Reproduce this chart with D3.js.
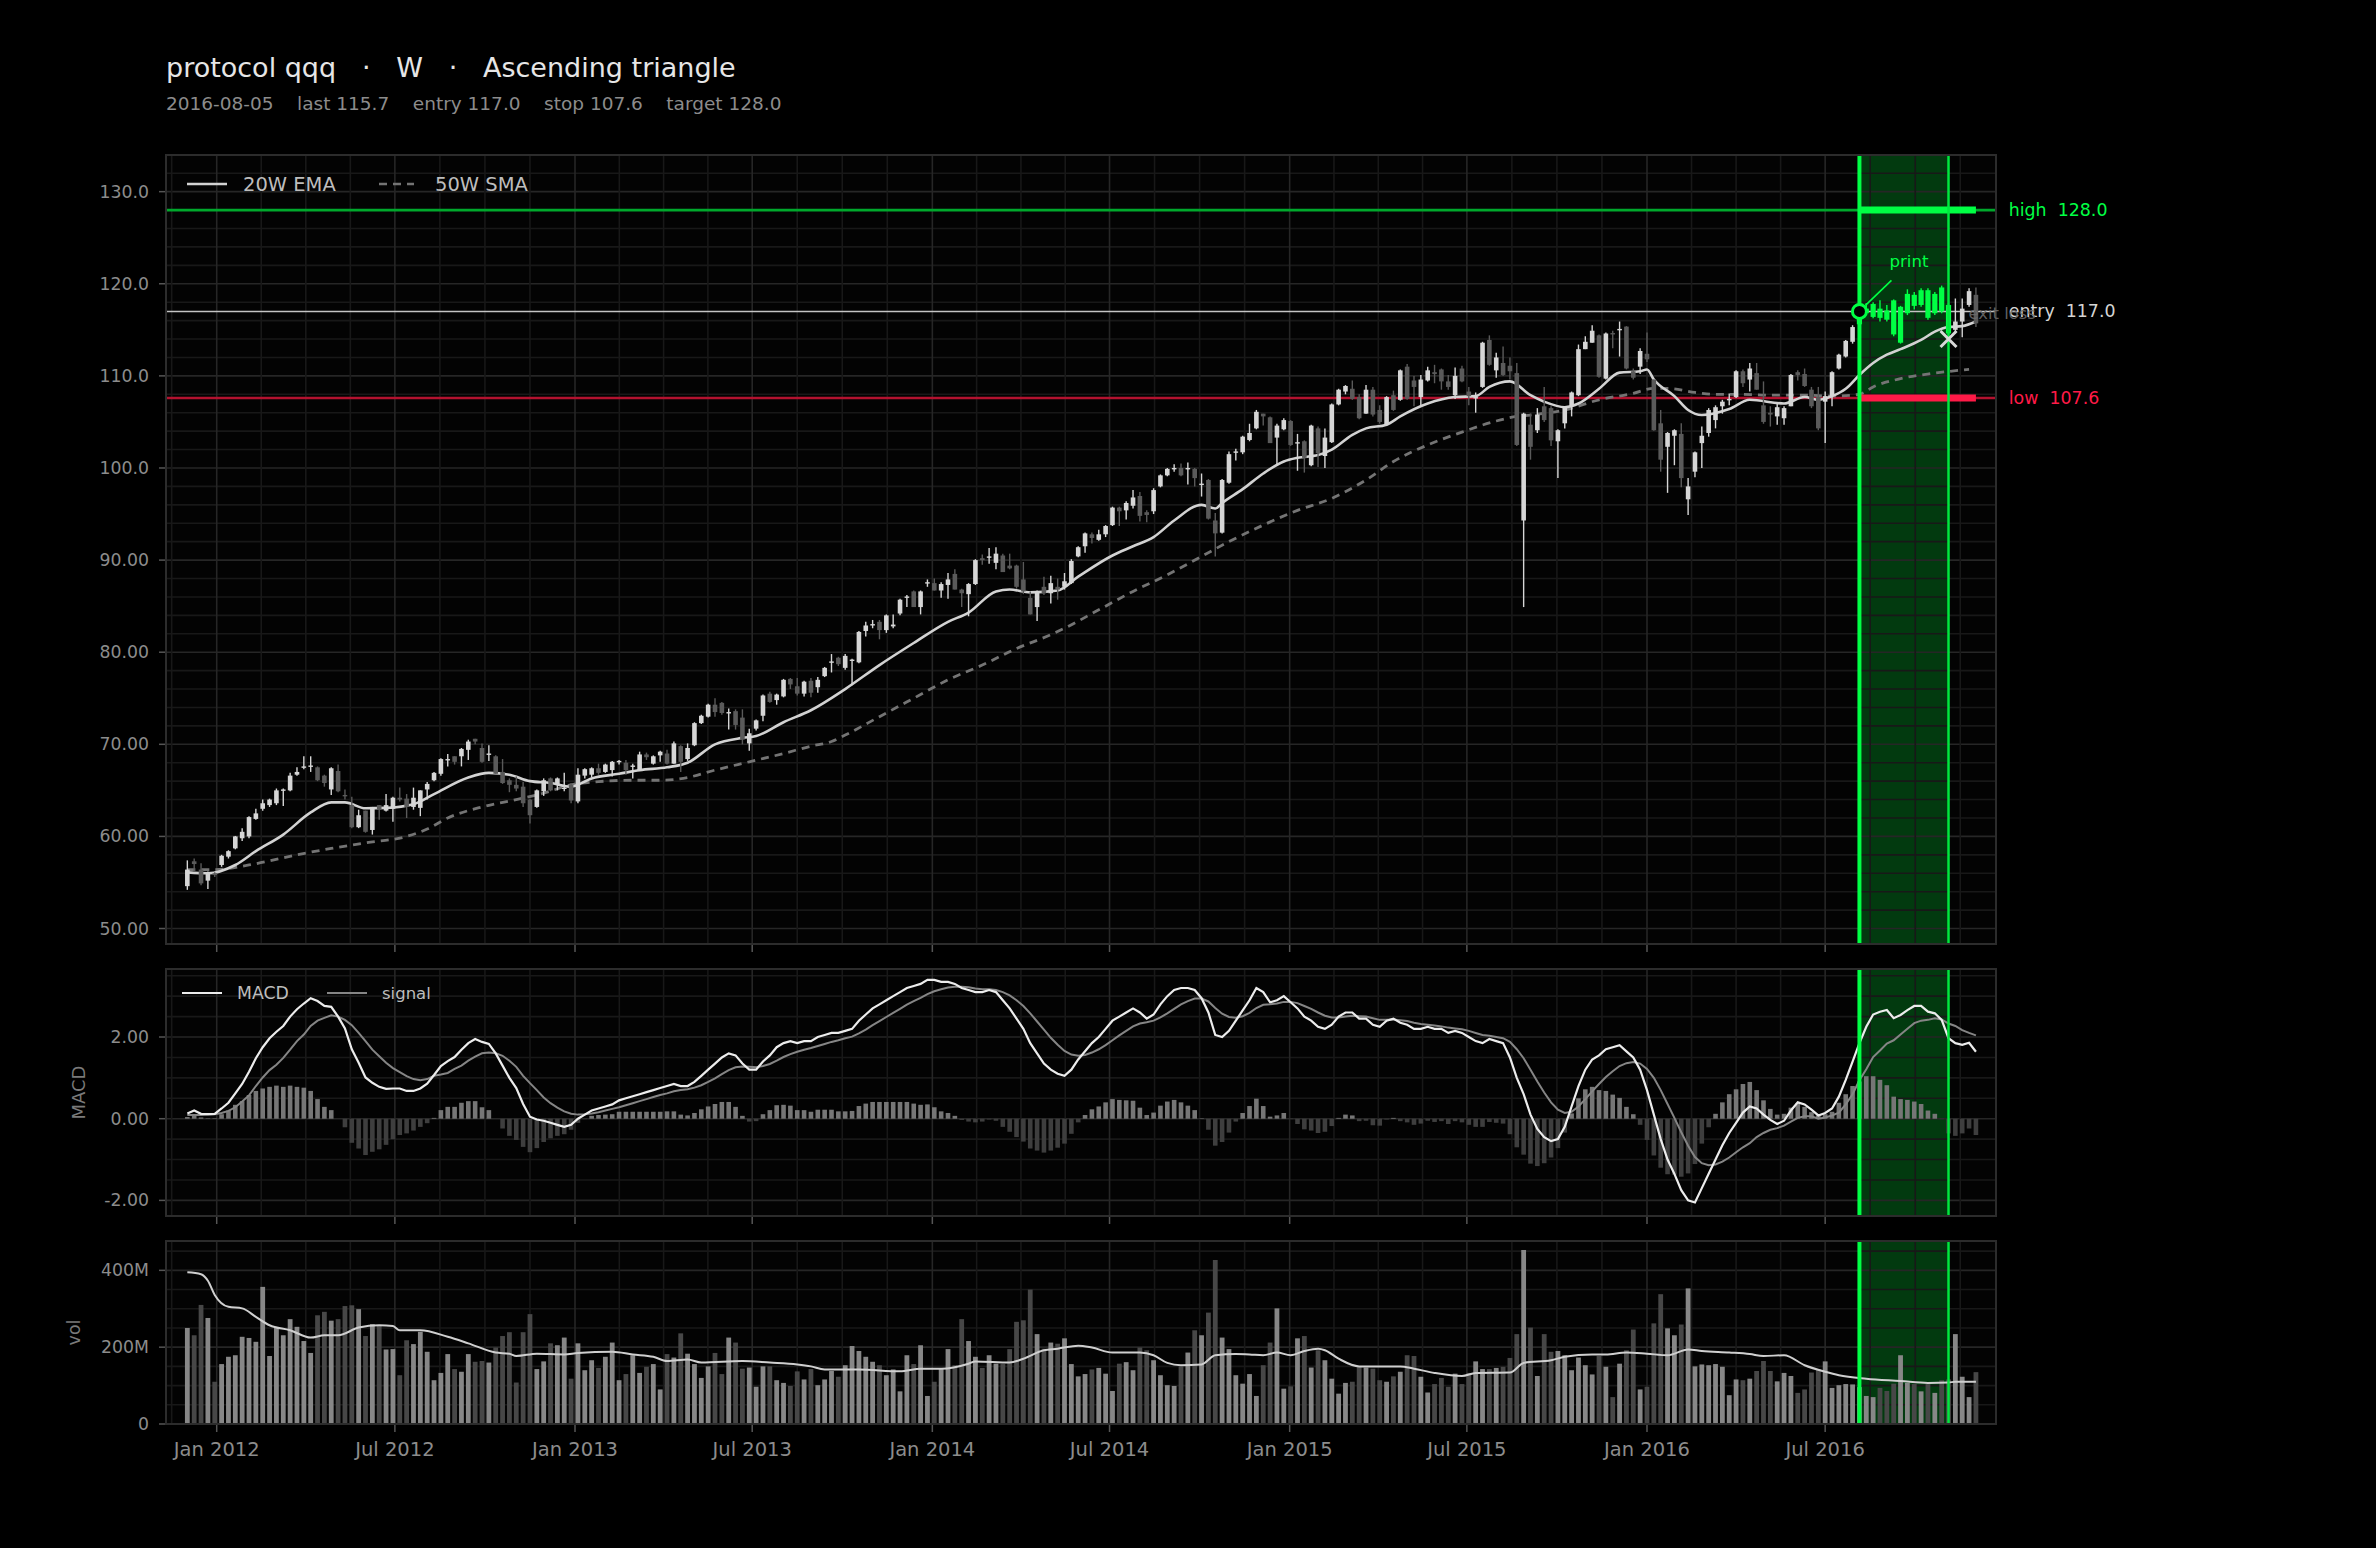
<!DOCTYPE html>
<html>
<head>
<meta charset="utf-8">
<script src="https://cdn.jsdelivr.net/npm/d3@7"></script>
<style>
  html, body { margin: 0; background: #000; }
  svg text { font-family: "DejaVu Sans", sans-serif; white-space: pre; }
</style>
</head>
<body>
<div id="chart"></div>
<script>
// weekly bars, first bar is the week ending 2011-12-02
const firstWeek = Date.UTC(2011, 11, 2)

const opens = [54.6,57.3,56.4,55.2,56.0,56.9,57.8,58.7,59.8,60.0,
61.9,63.0,63.4,63.6,65.0,65.0,66.7,67.5,67.6,67.5,
66.6,65.1,67.1,64.5,63.4,61.0,62.8,60.7,63.4,62.8,
63.0,64.2,64.1,63.2,63.1,65.1,66.1,66.8,68.3,68.7,
68.7,69.4,70.6,69.6,68.9,68.7,67.0,66.1,65.6,65.4,
64.0,63.2,64.9,66.3,65.6,65.2,65.6,63.8,66.6,66.7,
67.4,67.0,67.2,68.1,68.0,67.6,67.2,68.9,67.9,68.8,
69.0,67.9,69.8,68.4,69.9,72.3,73.0,74.3,74.5,73.4,
73.6,72.9,70.1,71.7,73.1,75.5,74.8,75.2,77.1,76.3,
75.5,76.9,76.2,77.4,78.9,79.4,78.3,79.1,78.9,82.3,
83.0,83.3,82.4,82.8,84.2,86.0,86.6,84.9,87.5,87.5,
86.7,87.3,88.5,86.8,86.3,87.4,90.2,90.3,89.7,90.5,
89.4,89.4,87.9,85.9,84.9,87.1,86.4,87.1,87.1,87.5,
90.4,91.5,92.8,92.2,92.8,93.8,95.7,95.4,95.9,96.96,
95.2,95.3,98.0,99.2,99.9,100.0,99.9,99.9,98.2,98.7,
94.3,92.98,98.4,101.7,101.7,103.04,104.3,105.9,105.5,103.3,
104.2,105.1,102.7,102.9,100.3,104.3,101.3,102.8,106.9,108.3,
108.6,107.7,105.9,108.5,106.3,104.7,107.9,107.4,111.0,109.5,
107.7,109.5,110.4,110.7,109.4,107.9,110.8,108.3,107.6,108.8,
113.9,110.6,111.4,111.1,110.3,94.3,104.7,104.1,106.7,106.5,
102.9,104.85,106.7,107.9,112.9,113.6,114.4,109.7,114.65,115.0,
115.35,110.5,111.0,112.4,109.6,104.85,102.3,103.5,103.7,96.6,
99.6,102.7,103.8,105.2,106.7,107.4,107.7,110.5,109.6,110.3,
106.8,106.0,105.6,105.4,106.7,110.4,110.2,108.5,107.7,107.2,
107.8,110.8,112.1,113.7,115.6,116.8,116.4,117.3,117.1,118.2,
113.6,116.8,118.8,117.7,119.3,116.8,119.6,117.7,115.0,115.9,
117.7,118.8]

const highs = [57.4,57.6,57.1,56.2,56.1,58.0,58.5,60.05,60.9,62.2,
63.0,64.0,64.1,65.2,65.2,66.9,67.5,68.7,68.7,67.6,
66.7,67.5,67.8,65.1,64.3,62.9,62.8,63.2,63.4,64.6,
64.3,65.3,64.6,65.3,65.0,65.9,67.0,68.5,68.95,68.7,
69.6,70.5,70.6,70.1,69.9,68.8,68.4,66.3,66.5,65.9,
64.1,65.1,66.3,66.4,66.4,66.9,65.8,67.4,67.4,67.5,
67.9,67.9,68.2,68.3,68.3,67.9,69.2,69.1,68.8,69.3,
69.4,70.3,69.9,70.1,72.4,73.2,74.4,75.0,74.6,73.9,
73.8,73.8,71.7,72.7,75.4,75.7,75.5,77.1,77.2,77.2,
76.9,77.2,77.3,78.4,79.8,79.5,79.8,79.3,82.3,83.3,
83.5,83.5,84.1,84.1,85.8,86.2,86.7,86.7,87.9,88.0,
87.6,88.6,89.0,86.9,87.5,90.1,90.6,91.3,91.4,90.7,
90.7,89.5,89.8,86.6,86.7,88.2,88.3,88.0,88.6,90.1,
91.5,93.0,93.0,93.3,93.8,95.8,95.8,96.4,97.6,97.4,
95.4,97.8,99.3,100.0,100.4,100.5,100.6,100.0,99.4,98.8,
95.1,98.8,101.8,102.1,103.5,104.8,106.3,105.9,105.6,104.8,
105.4,105.2,103.7,103.0,104.7,104.5,104.3,107.0,108.6,109.0,
109.5,108.0,109.0,108.8,106.8,107.8,108.4,110.7,111.3,110.0,
110.1,111.0,111.2,110.8,110.1,110.9,111.1,108.8,108.2,113.7,
114.4,112.5,113.2,112.0,111.4,106.0,105.9,106.5,108.8,106.7,
104.2,106.7,108.3,113.4,114.3,115.5,114.5,114.7,114.9,115.9,
115.4,110.8,113.0,114.7,109.6,106.3,103.9,104.2,104.85,98.9,
101.8,104.5,106.5,106.8,107.4,108.1,110.6,110.7,111.4,111.4,
109.4,106.7,107.0,106.7,110.2,110.6,110.8,108.8,108.8,108.3,
110.5,112.4,113.9,115.5,117.5,117.9,118.0,118.2,117.7,118.3,
117.6,119.4,119.1,119.5,119.5,119.1,119.8,117.9,118.4,118.4,
119.5,119.6]

const lows = [54.2,56.2,54.7,54.3,55.6,56.7,57.6,58.6,59.5,59.8,
61.8,62.8,63.2,63.4,63.3,64.9,66.6,67.3,67.0,66.0,
65.4,64.5,64.8,64.0,60.9,60.9,60.4,60.2,61.8,62.7,
61.6,63.8,62.0,62.9,62.2,64.0,66.0,66.6,67.6,67.8,
67.6,68.3,70.0,68.0,68.2,66.8,65.7,64.8,64.9,63.2,
61.4,63.1,64.4,64.9,65.0,64.9,63.6,63.6,66.3,66.4,
66.7,66.9,66.5,67.8,66.7,66.3,67.1,68.3,67.8,68.1,
67.8,67.9,67.0,68.2,69.8,72.2,72.9,73.0,73.2,71.6,
71.6,70.0,69.3,71.5,72.5,74.5,74.3,75.1,76.0,75.3,
75.2,75.1,75.6,77.3,77.8,78.5,78.1,76.4,78.8,81.7,
82.6,81.4,82.1,82.6,84.0,84.9,84.9,84.1,87.1,86.7,
85.9,85.8,86.8,84.9,83.9,87.3,89.5,89.6,89.0,88.7,
89.0,86.9,86.3,84.1,83.4,86.2,85.3,85.7,86.8,87.4,
90.3,90.8,91.8,92.1,92.5,93.7,93.7,94.4,95.6,94.2,
94.1,95.0,97.9,99.1,99.6,99.1,98.2,98.0,96.9,94.4,
90.4,92.9,98.3,100.8,101.5,102.9,104.2,104.6,102.7,100.3,
104.1,102.4,99.7,99.5,100.2,100.1,100.0,102.7,106.8,108.0,
107.4,105.3,105.9,105.6,104.8,104.6,106.2,107.3,107.4,106.7,
106.8,109.4,109.2,108.5,108.5,107.5,109.3,106.8,106.0,108.7,
111.1,109.8,110.0,109.6,102.4,84.9,100.9,103.8,105.0,102.4,
98.9,104.3,105.6,107.8,112.9,113.6,109.8,109.6,113.0,112.1,
110.7,109.6,110.2,111.5,104.05,99.6,97.3,100.3,97.9,94.9,
99.0,100.0,103.4,104.3,105.9,106.8,107.6,108.8,108.3,108.5,
104.8,104.5,104.7,104.7,106.7,109.5,108.8,106.5,104.1,102.7,
106.7,110.7,112.0,113.5,115.2,116.6,116.25,115.9,115.9,114.3,
113.5,116.6,117.2,117.5,116.1,116.6,116.8,114.4,114.6,114.2,
117.5,115.3]

const closes = [56.4,57.0,54.9,56.1,55.8,57.9,58.4,60.0,60.5,62.1,
62.5,63.6,64.0,65.0,65.1,66.6,67.0,67.6,67.7,66.1,
65.8,67.4,64.9,64.4,61.0,62.3,60.5,63.2,62.9,63.4,
64.2,64.0,63.2,64.2,65.0,65.7,66.9,68.4,68.4,68.1,
69.5,70.3,70.3,68.1,69.0,66.8,65.8,65.6,65.2,63.6,
62.3,65.0,66.1,65.0,66.3,65.3,63.9,66.7,67.3,67.4,
66.9,67.8,68.1,68.2,67.2,67.7,68.9,68.6,68.7,69.2,
67.9,70.1,68.1,69.6,72.3,73.1,74.3,73.5,73.4,73.5,
72.1,70.5,71.2,72.6,75.3,74.6,75.4,77.0,76.5,75.5,
76.8,75.6,77.0,78.3,79.0,78.7,79.6,79.2,82.2,82.9,
83.05,82.4,84.0,83.0,85.7,86.05,84.9,86.6,87.6,86.7,
87.4,87.9,86.8,86.4,87.4,90.0,90.0,90.4,90.7,88.7,
89.1,87.1,86.6,84.1,86.6,86.4,87.5,86.8,87.7,89.9,
91.4,92.9,92.4,92.8,93.7,95.7,95.3,96.2,96.8,94.8,
94.9,97.6,99.2,99.9,100.0,99.2,100.0,98.9,98.3,94.5,
92.9,98.7,101.5,101.8,103.4,103.8,106.1,105.6,102.7,104.6,
105.2,102.5,102.8,101.1,104.6,101.6,103.3,106.9,108.5,108.9,
107.5,105.4,108.5,105.8,105.0,107.7,106.3,110.6,107.5,108.8,
109.6,110.6,110.2,109.4,108.8,110.0,109.4,107.8,107.7,113.6,
111.2,112.0,110.1,110.5,102.5,105.9,102.3,105.8,105.2,103.0,
104.1,106.7,108.2,112.9,113.7,114.9,109.9,114.6,114.6,115.1,
110.8,109.8,112.7,111.8,104.1,100.9,103.8,104.1,98.9,98.0,
101.7,103.5,106.3,106.6,107.2,107.5,110.5,109.2,110.8,108.5,
105.0,105.8,106.6,106.5,110.1,110.1,108.9,106.7,104.3,107.8,
110.4,112.3,113.8,115.3,117.1,117.3,117.8,116.3,116.1,114.5,
117.5,118.9,117.6,119.3,116.3,118.9,117.0,114.6,115.9,117.3,
119.2,115.7]

// volume in millions of shares
const volumes = [250,231,310,276,110,156,175,179,227,224,
214,357,177,251,231,273,253,216,185,283,
292,269,273,307,309,299,229,260,257,194,
195,127,218,208,240,188,114,133,182,143,
136,182,162,164,160,199,229,239,108,239,
286,143,163,210,205,225,118,210,140,166,
146,175,212,114,130,179,133,149,156,90,
182,173,236,183,156,120,150,185,130,225,
212,144,147,97,150,150,114,107,99,137,
116,143,101,116,138,123,153,203,190,175,
162,153,127,142,85,179,156,205,73,110,
143,195,153,273,216,175,146,179,157,156,
195,266,270,350,234,196,212,209,223,156,
124,130,142,146,131,86,157,161,140,199,
192,166,127,101,99,150,186,244,231,290,
427,225,195,127,105,130,73,153,212,301,
92,98,223,229,147,192,166,118,79,107,
110,150,147,144,114,110,124,136,179,177,
123,82,104,120,97,131,104,133,163,143,
143,146,149,172,234,453,251,125,234,188,
190,179,140,173,153,129,177,149,70,157,
192,246,90,97,262,338,249,231,259,353,
150,155,153,156,149,75,116,114,118,138,
164,138,111,133,125,81,90,134,143,163,
94,101,104,103,96,73,70,94,86,105,
179,107,104,85,104,81,114,116,234,123,
70,135]

const macdValues = [0.13,0.20,0.12,0.11,0.12,0.25,0.39,0.62,0.85,1.15,
1.48,1.75,1.97,2.13,2.27,2.50,2.68,2.82,2.95,2.88,
2.76,2.74,2.50,2.21,1.70,1.37,1.01,0.88,0.78,0.73,
0.74,0.74,0.68,0.68,0.74,0.86,1.07,1.29,1.41,1.51,
1.69,1.85,1.95,1.88,1.83,1.60,1.30,1.00,0.75,0.36,
0.05,-0.02,-0.05,-0.10,-0.15,-0.20,-0.15,0.00,0.10,0.20,
0.25,0.30,0.35,0.45,0.50,0.55,0.60,0.65,0.70,0.75,
0.80,0.85,0.80,0.80,0.90,1.05,1.20,1.35,1.50,1.60,
1.55,1.35,1.20,1.20,1.40,1.55,1.75,1.85,1.90,1.85,
1.90,1.90,2.00,2.05,2.10,2.10,2.15,2.20,2.40,2.55,
2.70,2.80,2.90,3.00,3.10,3.20,3.25,3.30,3.40,3.40,
3.35,3.35,3.30,3.20,3.15,3.10,3.10,3.15,3.10,2.90,
2.70,2.45,2.20,1.85,1.60,1.35,1.20,1.10,1.05,1.20,
1.45,1.65,1.85,2.00,2.20,2.40,2.50,2.60,2.70,2.60,
2.45,2.55,2.80,3.00,3.15,3.20,3.20,3.15,2.95,2.60,
2.05,2.00,2.15,2.40,2.65,2.90,3.20,3.10,2.85,2.90,
3.00,2.85,2.70,2.50,2.40,2.25,2.20,2.30,2.50,2.60,
2.60,2.45,2.45,2.30,2.25,2.40,2.45,2.35,2.30,2.20,
2.20,2.25,2.20,2.20,2.10,2.15,2.10,2.00,1.90,1.85,
1.95,1.90,1.85,1.50,1.00,0.60,0.10,-0.25,-0.45,-0.55,
-0.50,-0.20,0.30,0.80,1.20,1.45,1.55,1.70,1.75,1.80,
1.65,1.50,1.20,0.70,0.10,-0.50,-1.00,-1.35,-1.75,-2.00,
-2.05,-1.70,-1.35,-1.00,-0.65,-0.35,-0.10,0.15,0.30,0.25,
0.10,-0.03,-0.13,-0.05,0.20,0.40,0.35,0.22,0.08,0.14,
0.25,0.54,0.95,1.40,1.85,2.25,2.55,2.62,2.66,2.46,
2.54,2.66,2.76,2.76,2.62,2.58,2.42,1.97,1.85,1.81,
1.86,1.64]

const signalValues = [0.09,0.09,0.09,0.10,0.11,0.14,0.19,0.28,0.42,0.57,
0.80,1.01,1.19,1.32,1.49,1.69,1.90,2.06,2.27,2.40,
2.47,2.53,2.50,2.42,2.29,2.10,1.90,1.69,1.53,1.37,
1.24,1.14,1.04,0.97,0.94,0.97,1.05,1.08,1.12,1.22,
1.30,1.42,1.52,1.60,1.62,1.60,1.54,1.42,1.27,1.05,
0.87,0.70,0.52,0.38,0.27,0.18,0.12,0.10,0.11,0.13,
0.16,0.20,0.24,0.28,0.33,0.38,0.43,0.48,0.53,0.58,
0.62,0.67,0.70,0.72,0.76,0.82,0.90,0.99,1.09,1.19,
1.26,1.28,1.27,1.26,1.29,1.34,1.42,1.51,1.58,1.64,
1.69,1.73,1.78,1.83,1.88,1.92,1.97,2.01,2.09,2.18,
2.29,2.39,2.49,2.59,2.69,2.79,2.88,2.96,3.05,3.12,
3.17,3.21,3.23,3.23,3.22,3.19,3.17,3.17,3.15,3.10,
3.02,2.90,2.76,2.58,2.38,2.18,1.98,1.81,1.66,1.57,
1.54,1.56,1.62,1.70,1.80,1.92,2.04,2.15,2.26,2.33,
2.36,2.40,2.48,2.58,2.69,2.80,2.88,2.94,2.94,2.87,
2.71,2.57,2.49,2.47,2.51,2.59,2.71,2.79,2.80,2.82,
2.86,2.86,2.83,2.76,2.69,2.60,2.52,2.48,2.48,2.50,
2.52,2.51,2.50,2.46,2.42,2.42,2.43,2.41,2.39,2.35,
2.32,2.30,2.28,2.26,2.23,2.21,2.19,2.15,2.10,2.05,
2.03,2.00,1.97,1.88,1.70,1.48,1.20,0.91,0.64,0.40,
0.22,0.14,0.17,0.30,0.48,0.67,0.85,1.02,1.16,1.29,
1.36,1.39,1.35,1.22,1.00,0.70,0.36,0.02,-0.33,-0.66,
-0.94,-1.09,-1.14,-1.12,-1.05,-0.95,-0.82,-0.70,-0.60,-0.45,
-0.35,-0.27,-0.23,-0.17,-0.07,0.02,0.06,0.06,0.00,0.03,
0.08,0.15,0.35,0.60,0.94,1.21,1.51,1.67,1.84,1.92,
2.06,2.20,2.34,2.40,2.42,2.46,2.43,2.33,2.27,2.17,
2.10,2.04]

// moving averages: [week index, value]
const ema20 = [[0,56.1],[3,56.0],[7,56.9],[10,58.4],[14,60.2],[18,62.6],[21,63.7],[23,63.7],[26,63.05],[29,63.1],
[33,63.5],[36,64.6],[41,66.4],[44,66.9],[47,66.7],[50,66.0],[53,65.8],[56,65.4],[59,66.3],[63,66.8],
[66,67.2],[70,67.5],[73,68.0],[77,70.0],[81,70.7],[83,70.9],[87,72.4],[91,73.7],[96,76.0],[101,78.6],
[106,81.0],[111,83.3],[114,84.3],[118,86.6],[120,86.8],[123,86.5],[127,86.7],[130,88.2],[135,90.5],[138,91.5],
[141,92.5],[144,94.3],[148,96.0],[150,95.6],[151,96.2],[154,97.7],[157,99.4],[160,100.7],[162,101.1],[165,101.4],
[167,102.0],[170,103.6],[172,104.3],[175,104.7],[177,105.6],[181,107.0],[185,107.7],[188,107.8],[190,108.8],[193,109.4],
[196,107.9],[198,107.2],[201,106.6],[203,107.0],[206,108.6],[209,110.35],[212,110.5],[213,110.7],[214,109.6],[217,107.8],
[219,106.3],[221,105.75],[225,106.4],[228,107.4],[233,107.0],[236,107.7],[238,107.4],[240,107.8],[242,108.6],[244,110.1],
[246,111.4],[248,112.3],[250,112.9],[253,113.9],[255,114.8],[257,115.3],[259,115.4],[261,115.9]]

const sma50 = [[0,56.4],[4,56.4],[9,56.9],[16,58.0],[21,58.7],[26,59.3],[32,60.0],[35,60.8],[38,62.0],[43,63.2],
[48,64.0],[52,64.7],[56,65.6],[60,65.95],[65,66.1],[69,66.1],[73,66.4],[77,67.2],[82,68.1],[87,69.0],
[91,69.8],[94,70.3],[96,71.0],[101,73.0],[106,75.0],[111,77.0],[116,78.6],[121,80.4],[126,81.9],[128,82.6],
[133,84.6],[138,86.6],[143,88.4],[148,90.4],[152,92.0],[157,93.8],[162,95.4],[167,96.7],[172,98.7],[176,100.7],
[181,102.5],[186,103.9],[191,105.1],[194,105.6],[196,105.75],[201,106.3],[206,107.4],[211,108.1],[214,108.65],[216,108.65],
[220,108.2],[223,108.0],[226,108.0],[231,107.9],[236,107.9],[240,107.8],[244,108.0],[246,108.8],[250,109.7],[255,110.3],
[260,110.7]]

const volAvg = [[0,395],[2,390],[3,373],[4,336],[6,305],[8,301],[10,279],[12,257],[15,244],[18,225],
[20,231],[22,231],[25,251],[28,257],[30,255],[31,244],[34,244],[38,227],[41,210],[45,186],
[47,183],[48,177],[51,183],[55,181],[57,185],[62,188],[65,181],[68,175],[70,164],[73,168],
[75,160],[81,164],[85,160],[89,155],[91,150],[93,142],[98,142],[104,137],[107,144],[110,144],
[114,157],[115,163],[120,160],[122,170],[125,192],[127,196],[130,204],[132,199],[135,186],[139,186],
[141,179],[143,159],[145,153],[148,155],[150,179],[153,182],[155,181],[157,179],[159,186],[161,179],
[163,190],[165,196],[166,192],[168,170],[171,150],[175,150],[177,150],[179,144],[182,133],[186,125],
[188,133],[193,134],[195,159],[199,166],[201,175],[205,181],[207,181],[210,186],[213,183],[216,179],
[219,194],[221,190],[225,186],[228,182],[230,177],[233,179],[236,153],[239,136],[241,127],[245,118],
[250,112],[254,107],[257,108],[258,110],[261,110]]

// trade setup
const entryWeek = 244
const exitWeek = 257
const entryPrice = 117.0
const stopPrice = 107.6
const targetPrice = 128.0
const exitPrice = 114.0

const mainTicks = [50, 60, 70, 80, 90, 100, 110, 120, 130]
const macdTicks = [-2, 0, 2]
const volTicks = [0, 200, 400]

function drawChart() {
  const width = 2376
  const height = 1548
  const left = 166
  const right = 1996
  const mainBox = { top: 155, bottom: 944 }
  const macdBox = { top: 969, bottom: 1216 }
  const volBox = { top: 1241, bottom: 1424 }

  const upGrey = "#d6d6d6", downGrey = "#5a5a5a"
  const hot = "#00ff44"

  const dateOf = i => new Date(firstWeek + i * 7 * 864e5)
  const weeks = d3.range(closes.length)

  const svg = d3.select("#chart").append("svg")
    .attr("width", width)
    .attr("height", height)
    .style("background", "#000")

  const xScale = d3.scaleUtc()
    .domain([new Date(Date.UTC(2011, 10, 10, 5)), new Date(Date.UTC(2016, 11, 22, 12))])
    .range([left, right])
  const xw = i => xScale(dateOf(i))

  const yMain = d3.scaleLinear().domain([48.32, 133.98]).range([mainBox.bottom, mainBox.top])
  const yMacd = d3.scaleLinear().domain([-2.382, 3.665]).range([macdBox.bottom, macdBox.top])
  const yVol = d3.scaleLinear().domain([0, 476.4]).range([volBox.bottom, volBox.top])

  // vertical grid: half-year majors, quarter-of-half-year minors
  const vGrid = []
  for (let yr = 2011; yr <= 2016; yr++) {
    for (const m of [0, 6]) {
      const a = Date.UTC(yr, m, 1)
      const b = m === 0 ? Date.UTC(yr, 6, 1) : Date.UTC(yr + 1, 0, 1)
      for (let k = 0; k < 4; k++) vGrid.push({ t: new Date(a + k * (b - a) / 4), major: k === 0 })
    }
  }
  const [d0, d1] = xScale.domain()
  const vLines = vGrid.filter(d => d.t > d0 && d.t < d1)
  const xTickDates = vLines.filter(d => d.major).map(d => d.t)

  function panel(box, yScale, step, majors, clipId) {
    const g = svg.append("g")
    g.append("rect").attr("x", left).attr("y", box.top)
      .attr("width", right - left).attr("height", box.bottom - box.top)
      .attr("fill", "#030303")
    // trade window
    g.append("rect")
      .attr("x", xw(entryWeek)).attr("y", box.top)
      .attr("width", xw(exitWeek) - xw(entryWeek)).attr("height", box.bottom - box.top)
      .attr("fill", "#023a0f")
    const [lo, hi] = yScale.domain()
    const hVals = d3.range(Math.ceil(lo / step) * step, hi, step)
    g.append("g").selectAll("line").data(hVals).join("line")
      .attr("x1", left).attr("x2", right)
      .attr("y1", d => yScale(d)).attr("y2", d => yScale(d))
      .attr("stroke", d => majors.some(m => Math.abs(m - d) < 1e-6) ? "#262626" : "#181818")
      .attr("stroke-width", 1.6)
    g.append("g").selectAll("line").data(vLines).join("line")
      .attr("x1", d => xScale(d.t)).attr("x2", d => xScale(d.t))
      .attr("y1", box.top).attr("y2", box.bottom)
      .attr("stroke", d => d.major ? "#262626" : "#181818")
      .attr("stroke-width", 1.6)
    // y ticks
    g.append("g").selectAll("line").data(majors).join("line")
      .attr("x1", left - 7).attr("x2", left)
      .attr("y1", d => yScale(d)).attr("y2", d => yScale(d))
      .attr("stroke", "#555").attr("stroke-width", 1.5)
    // x ticks below the panel
    g.append("g").selectAll("line").data(xTickDates).join("line")
      .attr("x1", d => xScale(d)).attr("x2", d => xScale(d))
      .attr("y1", box.bottom).attr("y2", box.bottom + 8)
      .attr("stroke", "#555").attr("stroke-width", 1.5)
    svg.append("clipPath").attr("id", clipId).append("rect")
      .attr("x", left).attr("y", box.top)
      .attr("width", right - left).attr("height", box.bottom - box.top)
    const marks = svg.append("g").attr("clip-path", `url(#${clipId})`)
    return marks
  }

  function frame(box) {
    const g = svg.append("g")
    g.append("line").attr("x1", xw(entryWeek)).attr("x2", xw(entryWeek))
      .attr("y1", box.top).attr("y2", box.bottom)
      .attr("stroke", hot).attr("stroke-width", 4)
    g.append("line").attr("x1", xw(exitWeek)).attr("x2", xw(exitWeek))
      .attr("y1", box.top).attr("y2", box.bottom)
      .attr("stroke", "#00e83e").attr("stroke-width", 2.5)
    g.append("rect").attr("x", left).attr("y", box.top)
      .attr("width", right - left).attr("height", box.bottom - box.top)
      .attr("fill", "none").attr("stroke", "#2c2c2c").attr("stroke-width", 2)
  }

  function yLabels(ticks, yScale, fmt) {
    svg.append("g").selectAll("text").data(ticks).join("text")
      .attr("x", 149).attr("y", d => yScale(d))
      .attr("text-anchor", "end").attr("dominant-baseline", "central")
      .attr("font-size", 17.3).attr("fill", "#8c8c8c")
      .text(fmt)
  }

  // ---------- price panel ----------
  const main = panel(mainBox, yMain, 2, mainTicks, "clipMain")
  yLabels(mainTicks, yMain, d => d >= 100 ? d.toFixed(1) : d.toFixed(2))

  const inTrade = i => i >= entryWeek && i <= exitWeek
  const isUp = i => closes[i] >= opens[i]

  main.append("line").attr("x1", left).attr("x2", right)
    .attr("y1", yMain(targetPrice)).attr("y2", yMain(targetPrice))
    .attr("stroke", "#00a82c").attr("stroke-width", 2.6)
  main.append("line").attr("x1", left).attr("x2", right)
    .attr("y1", yMain(entryPrice)).attr("y2", yMain(entryPrice))
    .attr("stroke", "#c4c4c4").attr("stroke-width", 1.5)
  main.append("line").attr("x1", left).attr("x2", right)
    .attr("y1", yMain(stopPrice)).attr("y2", yMain(stopPrice))
    .attr("stroke", "#b3122f").attr("stroke-width", 2.6)

  const lineEma = d3.line().x(d => xw(d[0])).y(d => yMain(d[1])).curve(d3.curveMonotoneX)
  main.append("path").attr("d", lineEma(sma50))
    .attr("fill", "none").attr("stroke", "#747474").attr("stroke-width", 2.8)
    .attr("stroke-dasharray", "8,6")
  main.append("path").attr("d", lineEma(ema20))
    .attr("fill", "none").attr("stroke", "#d2d2d2").attr("stroke-width", 2.6)

  const candle = main.append("g").selectAll("g").data(weeks).join("g")
  const colour = i => inTrade(i) ? hot : (isUp(i) ? upGrey : downGrey)
  candle.append("line")
    .attr("x1", i => xw(i)).attr("x2", i => xw(i))
    .attr("y1", i => yMain(highs[i])).attr("y2", i => yMain(lows[i]))
    .attr("stroke", colour).attr("stroke-width", 1.4)
  candle.append("rect")
    .attr("x", i => xw(i) - (inTrade(i) ? 2.6 : 2.3))
    .attr("width", i => inTrade(i) ? 5.2 : 4.6)
    .attr("y", i => yMain(Math.max(opens[i], closes[i])))
    .attr("height", i => Math.max(1.4, Math.abs(yMain(opens[i]) - yMain(closes[i]))))
    .attr("fill", colour)

  // thick target / stop bands from entry to the last bar
  const lastWeek = closes.length - 1
  main.append("line").attr("x1", xw(entryWeek)).attr("x2", xw(lastWeek))
    .attr("y1", yMain(targetPrice)).attr("y2", yMain(targetPrice))
    .attr("stroke", hot).attr("stroke-width", 7)
  main.append("line").attr("x1", xw(entryWeek)).attr("x2", xw(lastWeek))
    .attr("y1", yMain(stopPrice)).attr("y2", yMain(stopPrice))
    .attr("stroke", "#ff1a47").attr("stroke-width", 7)

  frame(mainBox)

  // entry print marker
  const ex = xw(entryWeek), ey = yMain(entryPrice)
  svg.append("line").attr("x1", ex + 6).attr("y1", ey - 6).attr("x2", ex + 32).attr("y2", ey - 31)
    .attr("stroke", hot).attr("stroke-width", 1.6)
  svg.append("circle").attr("cx", ex).attr("cy", ey).attr("r", 7)
    .attr("fill", "#000").attr("stroke", hot).attr("stroke-width", 3)
  svg.append("text").attr("x", ex + 30).attr("y", ey - 44)
    .attr("font-size", 16.6).attr("fill", hot).text("print")

  // exit marker
  const qx = xw(exitWeek), qy = yMain(exitPrice)
  svg.append("path")
    .attr("d", `M${qx - 8},${qy - 8}L${qx + 8},${qy + 8}M${qx - 8},${qy + 8}L${qx + 8},${qy - 8}`)
    .attr("stroke", "#d8d8d8").attr("stroke-width", 3).attr("fill", "none")

  // right-hand level labels
  const levels = [
    { v: targetPrice, label: "high  ", c: hot },
    { v: entryPrice, label: "entry  ", c: "#d4d4d4" },
    { v: stopPrice, label: "low  ", c: "#ff1a47" }
  ]
  svg.append("g").selectAll("text").data(levels).join("text")
    .attr("x", right + 12.7).attr("y", d => yMain(d.v))
    .attr("dominant-baseline", "central")
    .attr("font-size", 17.4).attr("fill", d => d.c)
    .text(d => d.label + d.v.toFixed(1))
  svg.append("text").attr("x", qx + 20).attr("y", qy - 26)
    .attr("dominant-baseline", "central")
    .attr("font-size", 16.4).attr("fill", "#6c6c6c").attr("fill-opacity", 0.9)
    .text("exit loss")

  // legend
  const lg = svg.append("g")
  lg.append("line").attr("x1", 187).attr("x2", 227).attr("y1", 184).attr("y2", 184)
    .attr("stroke", "#d2d2d2").attr("stroke-width", 2.6)
  lg.append("text").attr("x", 243).attr("y", 184).attr("dominant-baseline", "central")
    .attr("font-size", 19.5).attr("fill", "#bdbdbd").text("20W EMA")
  lg.append("line").attr("x1", 379).attr("x2", 414).attr("y1", 184).attr("y2", 184)
    .attr("stroke", "#747474").attr("stroke-width", 2.6).attr("stroke-dasharray", "8,6")
  lg.append("text").attr("x", 435).attr("y", 184).attr("dominant-baseline", "central")
    .attr("font-size", 19.5).attr("fill", "#bdbdbd").text("50W SMA")

  // ---------- MACD panel ----------
  const macd = panel(macdBox, yMacd, 0.5, macdTicks, "clipMacd")
  yLabels(macdTicks, yMacd, d => d.toFixed(2))
  const hist = weeks.map(i => macdValues[i] - signalValues[i])
  macd.append("g").selectAll("rect").data(weeks).join("rect")
    .attr("x", i => xw(i) - 2.3).attr("width", 4.6)
    .attr("y", i => Math.min(yMacd(0), yMacd(hist[i])))
    .attr("height", i => Math.abs(yMacd(hist[i]) - yMacd(0)))
    .attr("fill", i => hist[i] >= 0 ? "#767676" : "#3e3e3e")
  const lineM = d3.line().x(i => xw(i))
  macd.append("path").attr("d", lineM.y(i => yMacd(signalValues[i]))(weeks))
    .attr("fill", "none").attr("stroke", "#858585").attr("stroke-width", 2)
  macd.append("path").attr("d", lineM.y(i => yMacd(macdValues[i]))(weeks))
    .attr("fill", "none").attr("stroke", "#ececec").attr("stroke-width", 2.2)
  frame(macdBox)
  svg.append("line").attr("x1", 182).attr("x2", 222).attr("y1", 993).attr("y2", 993)
    .attr("stroke", "#ececec").attr("stroke-width", 2.2)
  svg.append("text").attr("x", 237).attr("y", 993).attr("dominant-baseline", "central")
    .attr("font-size", 17.3).attr("fill", "#bdbdbd").text("MACD")
  svg.append("line").attr("x1", 327).attr("x2", 367).attr("y1", 993).attr("y2", 993)
    .attr("stroke", "#858585").attr("stroke-width", 2)
  svg.append("text").attr("x", 382).attr("y", 993).attr("dominant-baseline", "central")
    .attr("font-size", 16.5).attr("fill", "#bdbdbd").text("signal")
  svg.append("text")
    .attr("transform", `translate(78,${(macdBox.top + macdBox.bottom) / 2}) rotate(-90)`)
    .attr("text-anchor", "middle").attr("dominant-baseline", "central")
    .attr("font-size", 18).attr("fill", "#7a7a7a").text("MACD")

  // ---------- volume panel ----------
  const vol = panel(volBox, yVol, 50, volTicks, "clipVol")
  yLabels(volTicks, yVol, d => d === 0 ? "0" : d + "M")
  vol.append("g").selectAll("rect").data(weeks).join("rect")
    .attr("x", i => xw(i) - 2.4).attr("width", 4.8)
    .attr("y", i => yVol(volumes[i]))
    .attr("height", i => yVol(0) - yVol(volumes[i]))
    .attr("fill", i => isUp(i) ? "#878787" : "#474747")
  vol.append("path")
    .attr("d", d3.line().x(d => xw(d[0])).y(d => yVol(d[1])).curve(d3.curveMonotoneX)(volAvg))
    .attr("fill", "none").attr("stroke", "#cfcfcf").attr("stroke-width", 2)
  frame(volBox)
  svg.append("text")
    .attr("transform", `translate(74,${(volBox.top + volBox.bottom) / 2}) rotate(-90)`)
    .attr("text-anchor", "middle").attr("dominant-baseline", "central")
    .attr("font-size", 17.5).attr("fill", "#7a7a7a").text("vol")

  // x axis labels
  svg.append("g").selectAll("text").data(xTickDates).join("text")
    .attr("x", d => xScale(d)).attr("y", 1456)
    .attr("text-anchor", "middle")
    .attr("font-size", 19.5).attr("fill", "#8c8c8c")
    .text(d3.utcFormat("%b %Y"))

  // titles
  svg.append("text").attr("x", 166).attr("y", 76.7)
    .attr("font-size", 27).attr("fill", "#e6e6e6")
    .text("protocol qqq   ·   W   ·   Ascending triangle")
  svg.append("text").attr("x", 166).attr("y", 110)
    .attr("font-size", 18.5).attr("fill", "#8c8c8c")
    .text(`2016-08-05    last ${closes[lastWeek].toFixed(1)}    entry ${entryPrice.toFixed(1)}    stop ${stopPrice.toFixed(1)}    target ${targetPrice.toFixed(1)}`)
}

drawChart()
</script>
</body>
</html>
